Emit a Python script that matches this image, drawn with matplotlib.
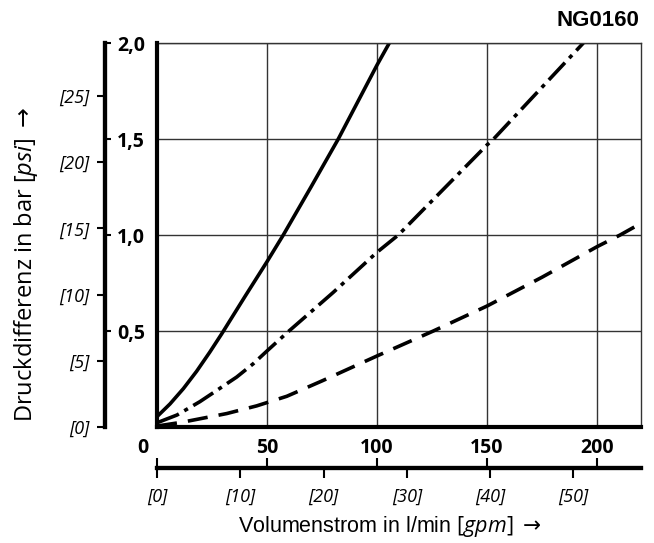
import matplotlib
matplotlib.use('Agg')
import matplotlib.pyplot as plt
import numpy as np

plt.rcParams['font.family'] = ['Open Sans', 'DejaVu Sans']
plt.rcParams['mathtext.fontset'] = 'custom'
plt.rcParams['mathtext.rm'] = 'Open Sans'
plt.rcParams['mathtext.it'] = 'Open Sans:italic'
plt.rcParams['mathtext.sf'] = 'DejaVu Sans'
plt.rcParams['lines.scale_dashes'] = False

# Volumenstrom in l/min -> Druckdifferenz in bar
flow_solid = [0, 5.9, 12, 18, 24, 29.4, 33.2, 40, 50, 57.4, 70, 82.4, 100, 105.6]
dp_solid = [0.054, 0.12, 0.2, 0.29, 0.39, 0.485, 0.555, 0.68, 0.861, 1.0, 1.25, 1.5, 1.885, 2.0]

flow_dashdot = [0, 9.1, 19.5, 27.1, 36.2, 43.8, 49.9, 59, 80, 100, 109.7, 150, 153, 193.8]
dp_dashdot = [0.022, 0.0625, 0.132, 0.19, 0.26, 0.33, 0.395, 0.49, 0.70, 0.91, 1.0, 1.469, 1.5, 2.0]

flow_dashed = [0, 11.5, 31.7, 45.3, 59, 75, 100, 125.6, 150, 175, 200, 210.5, 220]
dp_dashed = [0.005, 0.025, 0.07, 0.11, 0.16, 0.24, 0.37, 0.5, 0.63, 0.78, 0.939, 1.0, 1.061]

lpm_ticks = [0, 50, 100, 150, 200]
lpm_labels = ['0', '50', '100', '150', '200']
gpm_ticks = [0, 10, 20, 30, 40, 50]
gpm_labels = ['[0]', '[10]', '[20]', '[30]', '[40]', '[50]']
bar_ticks = [0.5, 1.0, 1.5, 2.0]
bar_labels = ['0,5', '1,0', '1,5', '2,0']
psi_ticks = [0, 5, 10, 15, 20, 25]
psi_labels = ['[0]', '[5]', '[10]', '[15]', '[20]', '[25]']

LPM_PER_GPM = 3.785
PSI_PER_BAR = 14.5038

W, H = 654, 543
fig = plt.figure(figsize=(W / 100, H / 100), dpi=100)


def fx(px):
    return px / W


def fy(py):
    return 1 - py / H


x0, x1, y0, y1 = 157, 641, 427, 43
grid_col = '#333333'

# main plot
ax = fig.add_axes([fx(x0), fy(y0), fx(x1) - fx(x0), fy(y1) - fy(y0)])
ax.set_xlim(0, 220)
ax.set_ylim(0, 2.0)
ax.set_xticks(lpm_ticks[1:])
ax.set_yticks(bar_ticks)
ax.grid(True, color=grid_col, lw=1.0)
ax.tick_params(length=0, labelbottom=False, labelleft=False)
for s in ['top', 'right']:
    ax.spines[s].set_linewidth(1.0)
    ax.spines[s].set_color(grid_col)
for s in ['left', 'bottom']:
    ax.spines[s].set_linewidth(3)
    ax.spines[s].set_zorder(5)

ax.plot(flow_solid, dp_solid, color='black', lw=2.6, solid_capstyle='butt')
ax.plot(flow_dashdot, dp_dashdot, color='black', lw=2.6,
        linestyle=(0, (17, 4.5, 3, 4.5)))
ax.plot(flow_dashed, dp_dashed, color='black', lw=2.6,
        linestyle=(0, (14.5, 8)))

for v, lab in zip(lpm_ticks, lpm_labels):
    dx = -14 if v == 0 else 0
    ax.annotate(lab, xy=(v, 0), xycoords=('data', 'axes fraction'),
                xytext=(dx, -26), textcoords='offset pixels',
                ha='center', va='baseline', fontsize=14, fontweight='bold')

# bar / psi axis on the left
ax_b = fig.add_axes([fx(105), fy(y0), 1e-4, fy(y1) - fy(y0)])
ax_b.set_ylim(0, 2.0)
ax_b.set_xticks([])
ax_b.patch.set_visible(False)
for s in ['top', 'bottom', 'right']:
    ax_b.spines[s].set_visible(False)
ax_b.spines['left'].set_linewidth(3)
ax_b.yaxis.tick_right()
ax_b.set_yticks(bar_ticks, labels=bar_labels, fontweight='bold', fontsize=14)
ax_b.tick_params(axis='y', direction='out', length=4.5, width=1.5, pad=4)

sec_p = ax_b.secondary_yaxis('left', functions=(lambda b: np.asarray(b) * PSI_PER_BAR,
                                                 lambda p: np.asarray(p) / PSI_PER_BAR))
sec_p.set_yticks(psi_ticks, labels=psi_labels, fontstyle='italic', fontsize=13)
sec_p.tick_params(direction='out', length=6, width=1.5, pad=5)
sec_p.spines['left'].set_linewidth(3)

# gpm axis below
ax_g = fig.add_axes([fx(x0), fy(468), fx(x1) - fx(x0), 1e-4])
ax_g.set_xlim(0, 220)
ax_g.set_yticks([])
ax_g.patch.set_visible(False)
for s in ['top', 'left', 'right']:
    ax_g.spines[s].set_visible(False)
ax_g.spines['bottom'].set_linewidth(3)
ax_g.xaxis.tick_top()
ax_g.set_xticks(lpm_ticks)
ax_g.tick_params(axis='x', direction='out', length=7, width=1.5, labeltop=False)

sec_g = ax_g.secondary_xaxis('bottom', functions=(lambda q: np.asarray(q) / LPM_PER_GPM,
                                                   lambda g: np.asarray(g) * LPM_PER_GPM))
sec_g.set_xticks(gpm_ticks, labels=gpm_labels, fontstyle='italic', fontsize=13)
sec_g.tick_params(direction='out', length=7, width=1.5, pad=7)
sec_g.spines['bottom'].set_linewidth(3)

fig.text(fx(390), fy(532), r'Volumenstrom in l/min $\mathit{[gpm]}$ $\mathsf{\rightarrow}$',
         ha='center', va='baseline', fontsize=15.5, family='Liberation Sans')
fig.text(fx(26), fy(264), r'Druckdifferenz in bar $\mathit{[psi]}$ $\mathsf{\rightarrow}$',
         ha='center', va='center', rotation=90, fontsize=17)
fig.text(fx(639), fy(20), 'NG0160', ha='right', va='center',
         fontsize=16, fontweight='bold', family='Liberation Sans')

fig.savefig('out.png', dpi=100)
